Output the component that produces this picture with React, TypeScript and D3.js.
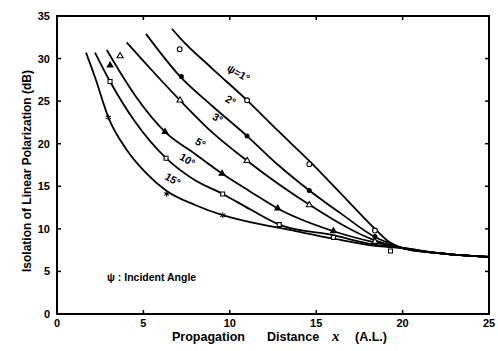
import * as d3 from 'd3';

type Pt = [number, number];

const X_TICKS = [0, 5, 10, 15, 20, 25];
const Y_TICKS = [0, 5, 10, 15, 20, 25, 30, 35];

// shared tail after all curves merge
const TAIL: Pt[] = [[21.8, 7.2], [25, 6.7]];

const CURVE_1: Pt[] = [[6.65, 33.5], [7.22, 32.2], [9.0, 28.8], [11.0, 25.1], [12.8, 21.5], [14.64, 17.9], [16.5, 14.0], [18.4, 10.0], [19.27, 8.4], [20.0, 7.75]];
const CURVE_2: Pt[] = [[5.15, 32.9], [7.12, 27.9], [9.0, 24.4], [11.0, 20.9], [12.8, 17.5], [14.64, 14.45], [16.5, 11.7], [18.4, 9.05], [19.27, 8.3], [20.0, 7.75]];
const CURVE_3: Pt[] = [[4.03, 31.9], [5.5, 28.6], [7.12, 25.1], [9.0, 21.3], [11.0, 18.0], [14.64, 12.8], [18.4, 8.65], [20.0, 7.75]];
const CURVE_5: Pt[] = [[2.88, 31.0], [4.51, 25.7], [6.25, 21.4], [7.99, 18.8], [9.55, 16.5], [11.17, 14.4], [12.77, 12.4], [15.97, 9.75], [18.4, 8.4], [20.0, 7.75]];
const CURVE_10: Pt[] = [[2.2, 30.7], [3.07, 27.3], [4.51, 22.6], [6.31, 18.3], [7.99, 15.7], [9.59, 14.1], [11.17, 12.3], [12.86, 10.5], [15.97, 9.25], [18.4, 8.15], [20.0, 7.75]];
const CURVE_15: Pt[] = [[1.68, 30.7], [2.2, 27.8], [2.97, 23.1], [4.03, 19.3], [5.09, 16.7], [6.35, 14.45], [7.99, 12.8], [9.59, 11.6], [11.17, 10.8], [13.48, 9.87], [15.97, 8.87], [18.4, 8.0], [20.0, 7.75]];

const MARKS_1: Pt[] = [[7.1, 31.1], [11.0, 25.1], [14.6, 17.6], [18.4, 9.8]];
const MARKS_2: Pt[] = [[7.2, 27.9], [11.0, 20.9], [14.6, 14.5], [18.4, 9.1]];
const MARKS_3: Pt[] = [[3.65, 30.3], [7.12, 25.1], [11.0, 18.0], [14.6, 12.8], [18.4, 8.5]];
const MARKS_5: Pt[] = [[3.07, 29.2], [6.25, 21.4], [9.55, 16.5], [12.77, 12.4], [16.0, 9.75]];
const MARKS_10: Pt[] = [[3.07, 27.3], [6.31, 18.3], [9.59, 14.1], [12.86, 10.5], [16.0, 9.0], [19.3, 7.4]];
const MARKS_15: Pt[] = [[2.97, 23.1], [6.35, 14.1], [9.59, 11.6]];

const ANGLE_LABELS = ['ψ=1°', '2°', '3°', '5°', '10°', '15°'];
const LABEL_POS: Pt[] = [[10.5, 28.3], [10.05, 25.1], [9.3, 23.0], [8.3, 20.1], [7.55, 18.1], [6.7, 15.8]];

const SERIES = [
  { curve: CURVE_1, marks: MARKS_1, symbol: d3.symbolCircle, filled: false, size: 18 },
  { curve: CURVE_2, marks: MARKS_2, symbol: d3.symbolCircle, filled: true, size: 12 },
  { curve: CURVE_3, marks: MARKS_3, symbol: d3.symbolTriangle, filled: false, size: 16 },
  { curve: CURVE_5, marks: MARKS_5, symbol: d3.symbolTriangle, filled: true, size: 14 },
  { curve: CURVE_10, marks: MARKS_10, symbol: d3.symbolSquare, filled: false, size: 16 },
  { curve: CURVE_15, marks: MARKS_15, symbol: d3.symbolAsterisk, filled: false, size: 22 },
];

const FONT = '"Liberation Sans", Arial, sans-serif';

export default function App() {
  const width = 498;
  const height = 351;
  const x = d3.scaleLinear().domain([0, 25]).range([57, 489]);
  const y = d3.scaleLinear().domain([0, 35]).range([314, 16]);

  const line = d3.line<Pt>()
    .x(d => x(d[0]))
    .y(d => y(d[1]))
    .curve(d3.curveMonotoneX);

  const tickLen = 4;

  return (
    <svg width={width} height={height} style={{ position: 'absolute', left: 0, top: 0, background: '#fff' }}>
      <rect width={width} height={height} fill="#fff" />

      {/* frame */}
      <rect x={x(0)} y={y(35)} width={x(25) - x(0)} height={y(0) - y(35)} fill="none" stroke="#000" strokeWidth={2} />

      {/* ticks, all pointing inward */}
      {X_TICKS.map(t => (
        <g key={'xt' + t}>
          <line x1={x(t)} x2={x(t)} y1={y(0)} y2={y(0) - tickLen} stroke="#000" strokeWidth={1.5} />
          <line x1={x(t)} x2={x(t)} y1={y(35)} y2={y(35) + tickLen} stroke="#000" strokeWidth={1.5} />
          <text x={x(t)} y={327} textAnchor="middle" fontFamily={FONT} fontWeight="bold" fontSize={11}>{t}</text>
        </g>
      ))}
      {Y_TICKS.map(t => (
        <g key={'yt' + t}>
          <line x1={x(0)} x2={x(0) + tickLen} y1={y(t)} y2={y(t)} stroke="#000" strokeWidth={1.5} />
          <line x1={x(25)} x2={x(25) - tickLen} y1={y(t)} y2={y(t)} stroke="#000" strokeWidth={1.5} />
          <text x={50} y={y(t) + 4} textAnchor="end" fontFamily={FONT} fontWeight="bold" fontSize={11}>{t}</text>
        </g>
      ))}

      {/* curves */}
      {SERIES.map((s, i) => (
        <path key={'c' + i} d={line([...s.curve, ...TAIL]) || ''} fill="none" stroke="#000" strokeWidth={1.8} />
      ))}

      {/* measured points */}
      {SERIES.map((s, i) => (
        <g key={'m' + i}>
          {s.marks.map((p, j) => (
            <path
              key={j}
              transform={`translate(${x(p[0])},${y(p[1])})`}
              d={d3.symbol(s.symbol, s.size)() || ''}
              fill={s.filled ? '#000' : '#fff'}
              stroke="#000"
              strokeWidth={1.1}
            />
          ))}
        </g>
      ))}

      {/* curve labels */}
      {ANGLE_LABELS.map((lab, i) => (
        <text
          key={'l' + i}
          transform={`translate(${x(LABEL_POS[i][0])},${y(LABEL_POS[i][1])}) rotate(30)`}
          textAnchor="middle"
          dy="0.35em"
          fontFamily={FONT}
          fontWeight="bold"
          fontSize={10.5}
        >{lab}</text>
      ))}

      <text x={107} y={281} fontFamily={FONT} fontWeight="bold" fontSize={10.5}>ψ : Incident Angle</text>

      {/* axis titles */}
      <text
        transform={`translate(31,171) rotate(-90)`}
        textAnchor="middle"
        fontFamily={FONT}
        fontWeight="bold"
        fontSize={12}
      >Isolation of Linear Polarization  (dB)</text>

      <text x={172} y={341} fontFamily={FONT} fontWeight="bold" fontSize={12.5}>Propagation</text>
      <text x={267} y={341} fontFamily={FONT} fontWeight="bold" fontSize={12.5}>Distance</text>
      <text x={332} y={341} fontFamily='"Liberation Serif", serif' fontStyle="italic" fontWeight="bold" fontSize={15}>x</text>
      <text x={355} y={341} fontFamily={FONT} fontWeight="bold" fontSize={12.5}>(A.L.)</text>
    </svg>
  );
}
